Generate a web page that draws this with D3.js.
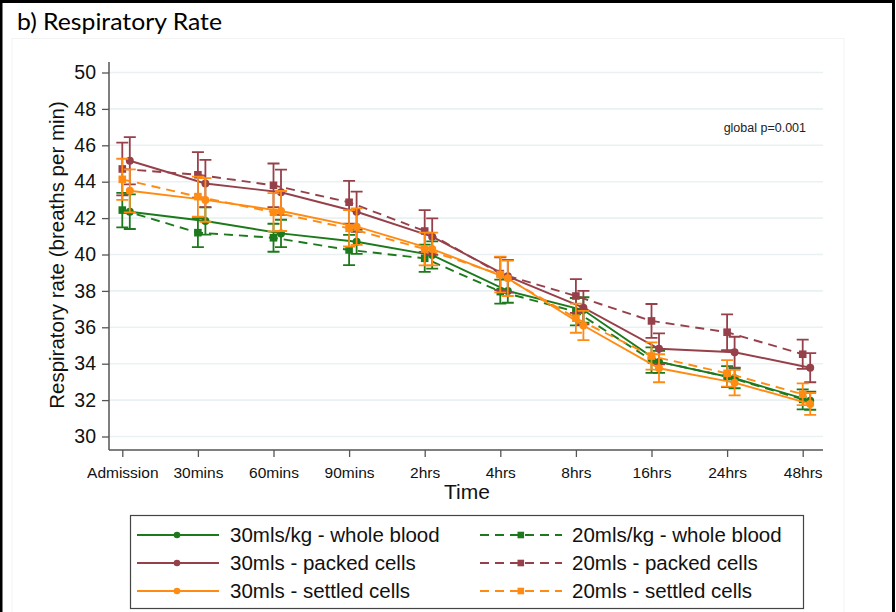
<!DOCTYPE html>
<html><head><meta charset="utf-8">
<script src="https://cdn.jsdelivr.net/npm/d3@7"></script>
<style>body{margin:0;background:#fff}svg{display:block}</style>
</head><body>
<script>
const times = ["Admission","30mins","60mins","90mins","2hrs","4hrs","8hrs","16hrs","24hrs","48hrs"];
const yTicks = [30,32,34,36,38,40,42,44,46,48,50];
const wb30 = [42.35, 41.84, 41.16, 40.70, 39.97, 38.00, 36.95, 34.10, 33.20, 31.97];
const wb30ci = [0.95, 0.75, 0.75, 0.67, 0.75, 0.65, 0.70, 0.60, 0.55, 0.50];
const wb20 = [42.44, 41.20, 40.92, 40.25, 39.79, 37.96, 36.86, 34.20, 33.29, 32.04];
const wb20ci = [0.95, 0.80, 0.77, 0.83, 0.75, 0.66, 0.75, 0.70, 0.58, 0.55];
const pc30 = [45.15, 43.90, 43.42, 42.35, 40.98, 38.80, 37.08, 34.82, 34.63, 33.78];
const pc30ci = [1.30, 1.30, 1.24, 1.10, 1.00, 0.90, 0.92, 0.85, 0.85, 0.80];
const pc20 = [44.70, 44.38, 43.80, 42.87, 41.29, 38.95, 37.72, 36.35, 35.73, 34.52];
const pc20ci = [1.45, 1.25, 1.20, 1.18, 1.15, 0.90, 0.93, 0.93, 0.98, 0.80];
const sc30 = [43.50, 43.00, 42.39, 41.53, 40.30, 38.69, 36.10, 33.75, 32.96, 31.79];
const sc30ci = [1.18, 1.20, 1.10, 1.00, 0.90, 0.97, 0.80, 0.77, 0.70, 0.60];
const sc20 = [44.13, 43.18, 42.32, 41.44, 40.30, 38.90, 36.50, 34.42, 33.47, 32.32];
const sc20ci = [1.13, 1.10, 1.05, 1.00, 0.90, 0.98, 0.80, 0.75, 0.73, 0.60];
const seriesNames = ["30mls/kg - whole blood","20mls/kg - whole blood","30mls - packed cells","20mls - packed cells","30mls - settled cells","20mls - settled cells"];

const GREEN = "#1c7a1c", RED = "#96404a", ORANGE = "#ff8b12";
const series = [
  {name: seriesNames[0], v: wb30, ci: wb30ci, color: GREEN, dash: null, marker: "circle", off: 7.5},
  {name: seriesNames[1], v: wb20, ci: wb20ci, color: GREEN, dash: "9,6", marker: "square", off: 0},
  {name: seriesNames[2], v: pc30, ci: pc30ci, color: RED, dash: null, marker: "circle", off: 7.5},
  {name: seriesNames[3], v: pc20, ci: pc20ci, color: RED, dash: "9,6", marker: "square", off: 0},
  {name: seriesNames[4], v: sc30, ci: sc30ci, color: ORANGE, dash: null, marker: "circle", off: 7.5},
  {name: seriesNames[5], v: sc20, ci: sc20ci, color: ORANGE, dash: "9,6", marker: "square", off: 0}
];

const W = 896, H = 612;
const svg = d3.select("body").append("svg").attr("width", W).attr("height", H);

// outer frame
svg.append("rect").attr("x", 0).attr("y", 0).attr("width", W).attr("height", H).attr("fill", "#fff");
svg.append("rect").attr("x", 1).attr("y", 1.5).attr("width", 892.5).attr("height", H + 5)
  .attr("fill", "none").attr("stroke", "#000").attr("stroke-width", 3);
// faint graph region
svg.append("rect").attr("x", 12).attr("y", 38.5).attr("width", 832).attr("height", 580)
  .attr("fill", "none").attr("stroke", "#f3f3f3").attr("stroke-width", 1);

svg.append("text").attr("x", 17).attr("y", 30).attr("font-family", "Lato, 'Open Sans', sans-serif")
  .attr("font-size", 23).attr("textLength", 205).attr("lengthAdjust", "spacingAndGlyphs")
  .attr("fill", "#000").text("b) Respiratory Rate");

const x = d3.scalePoint().domain(times).range([122.3, 802.7]).padding(0);
const y = d3.scaleLinear().domain([30, 50]).range([436.5, 72.5]);
const plotL = 109, plotR = 823, plotB = 450, plotT = 62;

// gridlines
svg.append("g").selectAll("line").data(yTicks).join("line")
  .attr("x1", plotL).attr("x2", plotR).attr("y1", d => y(d)).attr("y2", d => y(d))
  .attr("stroke", "#e9f1f3").attr("stroke-width", 1.6);

const FONT = "'Liberation Sans', Arial, sans-serif";
// y axis
const gy = svg.append("g").attr("transform", `translate(${plotL},0)`)
  .call(d3.axisLeft(y).tickValues(yTicks).tickSize(7).tickPadding(6).tickFormat(d3.format("d")));
gy.select(".domain").attr("d", `M0,${plotT}V${plotB}`).attr("stroke", "#555").attr("stroke-width", 1.5);
gy.selectAll(".tick line").attr("stroke", "#555").attr("stroke-width", 1.3);
gy.selectAll(".tick text").attr("font-family", FONT).attr("font-size", 19.5).attr("fill", "#111");

// x axis
const gx = svg.append("g").attr("transform", `translate(0,${plotB})`)
  .call(d3.axisBottom(x).tickSize(7).tickPadding(10));
gx.select(".domain").attr("d", `M${plotL},0H${plotR}`).attr("stroke", "#555").attr("stroke-width", 1.5);
gx.selectAll(".tick line").attr("stroke", "#555").attr("stroke-width", 1.3);
gx.selectAll(".tick text").attr("font-family", FONT).attr("font-size", 15.5).attr("fill", "#111");

svg.append("text").attr("x", 467).attr("y", 499).attr("text-anchor", "middle")
  .attr("font-family", FONT).attr("font-size", 21).attr("fill", "#111").text("Time");
svg.append("text").attr("transform", `translate(64,255) rotate(-90)`).attr("text-anchor", "middle")
  .attr("font-family", FONT).attr("font-size", 20.5).attr("fill", "#111").text("Respiratory rate (breaths per min)");
svg.append("text").attr("x", 806).attr("y", 132).attr("text-anchor", "end")
  .attr("font-family", FONT).attr("font-size", 12.5).attr("fill", "#222").text("global p=0.001");

// series
const line = d3.line();
series.forEach(s => {
  const g = svg.append("g");
  const pts = times.map((t, i) => [x(t) + s.off, y(s.v[i])]);
  times.forEach((t, i) => {
    const cx = x(t) + s.off, yt = y(s.v[i] + s.ci[i]), yb = y(s.v[i] - s.ci[i]);
    g.append("path").attr("d", `M${cx},${yt}V${yb}M${cx - 6},${yt}H${cx + 6}M${cx - 6},${yb}H${cx + 6}`)
      .attr("stroke", s.color).attr("stroke-width", 1.8).attr("fill", "none");
  });
  g.append("path").attr("d", line(pts)).attr("fill", "none").attr("stroke", s.color)
    .attr("stroke-width", 1.9).attr("stroke-dasharray", s.dash);
  if (s.marker === "circle") {
    g.selectAll("circle").data(pts).join("circle").attr("cx", d => d[0]).attr("cy", d => d[1])
      .attr("r", 4).attr("fill", s.color);
  } else {
    g.selectAll("rect").data(pts).join("rect").attr("x", d => d[0] - 3.8).attr("y", d => d[1] - 3.8)
      .attr("width", 7.6).attr("height", 7.6).attr("fill", s.color);
  }
});

// legend
const lg = svg.append("g");
lg.append("rect").attr("x", 130.5).attr("y", 515.5).attr("width", 673).attr("height", 93)
  .attr("fill", "#fff").attr("stroke", "#444").attr("stroke-width", 1.2);
const rowY = [535, 563, 591];
series.forEach((s, i) => {
  const col = i % 2, row = Math.floor(i / 2);
  const x0 = col === 0 ? 137 : 480, yy = rowY[row];
  lg.append("line").attr("x1", x0).attr("x2", x0 + 82).attr("y1", yy).attr("y2", yy)
    .attr("stroke", s.color).attr("stroke-width", 1.8).attr("stroke-dasharray", s.dash);
  if (s.marker === "circle") {
    lg.append("circle").attr("cx", x0 + 40).attr("cy", yy).attr("r", 3.3).attr("fill", s.color);
  } else {
    lg.append("rect").attr("x", x0 + 37.5).attr("y", yy - 3.3).attr("width", 6.6).attr("height", 6.6).attr("fill", s.color);
  }
  lg.append("text").attr("x", col === 0 ? 230 : 572).attr("y", yy + 7)
    .attr("font-family", FONT).attr("font-size", 20.5).attr("fill", "#111").text(s.name);
});
</script>
</body></html>
